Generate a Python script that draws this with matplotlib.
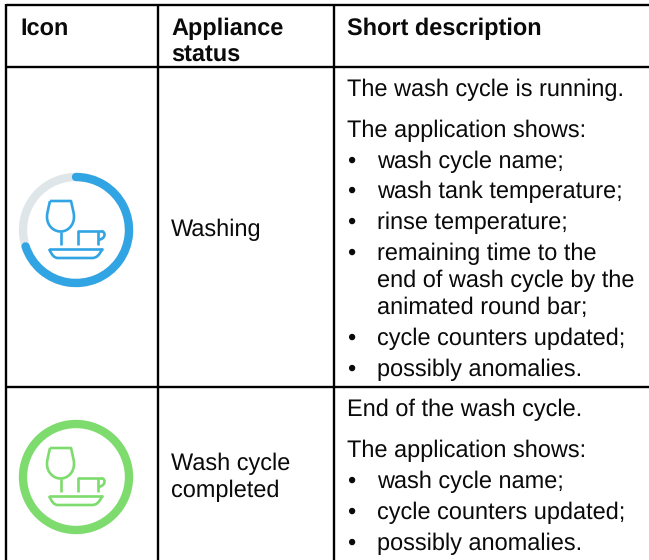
import matplotlib
matplotlib.use('Agg')
import matplotlib.pyplot as plt
from matplotlib.patches import Arc, Circle, PathPatch
from matplotlib.path import Path

# table content
headers = ['Icon', 'Appliance', 'status', 'Short description']
statuses = ['Washing', 'Wash cycle', 'completed']
washing_intro = ['The wash cycle is running.', 'The application shows:']
washing_items = ['wash cycle name;', 'wash tank temperature;', 'rinse temperature;',
                 'remaining time to the']
washing_wrapped = ['end of wash cycle by the', 'animated round bar;']
washing_tail = ['cycle counters updated;', 'possibly anomalies.']
completed_intro = ['End of the wash cycle.', 'The application shows:']
completed_items = ['wash cycle name;', 'cycle counters updated;', 'possibly anomalies.']

# share of the round bar that is done
wash_progress = 0.70

BLUE = '#31A4E3'
GREY = '#DFE6EA'
GREEN = '#7EDB6E'
INK = '#0A0A0A'
SIZE = 16.95

plt.rcParams['font.family'] = ['Liberation Sans', 'DejaVu Sans']
plt.rcParams['text.hinting'] = 'no_hinting'

fig = plt.figure(figsize=(6.49, 5.6), dpi=100)
ax = fig.add_axes([0, 0, 1, 1])
ax.set_xlim(0, 649)
ax.set_ylim(560, 0)
ax.axis('off')


def put(x, y, s, bold=False):
    ax.text(x, y, s, fontsize=SIZE, va='baseline', ha='left', color=INK,
            fontweight='bold' if bold else 'normal')


def put_items(items, ys):
    for s, y in zip(items, ys):
        put(347, y, '•')
        put(377, y, s)


def stroke(cx, cy, pts, codes, color):
    pts = [(cx + p[0], cy + p[1]) for p in pts]
    ax.add_patch(PathPatch(Path(pts, codes), fill=False, edgecolor=color, lw=1.9,
                           joinstyle='round', capstyle='butt'))


def dishes(cx, cy, color):
    M, L, C = Path.MOVETO, Path.LINETO, Path.CURVE4
    # glass
    stroke(cx, cy, [(-26, -29), (-5, -29),
                    (-3, -20), (-2, -17), (-2, -13),
                    (-2, -5), (-8, 1.5), (-15.3, 1.5),
                    (-23, 1.5), (-29, -5), (-29, -13),
                    (-29, -17), (-28, -20), (-26, -29)],
           [M, L, C, C, C, C, C, C, C, C, C, C, C, C], color)
    stroke(cx, cy, [(-15.3, 1.5), (-15.3, 15)], [M, L], color)
    # plate
    stroke(cx, cy, [(-27, 19), (26.5, 19)], [M, L], color)
    stroke(cx, cy, [(-27, 19), (-24, 25), (-22, 28), (-18, 28), (16, 28),
                    (21, 28), (23, 25), (26.5, 19)],
           [M, C, C, C, L, C, C, C], color)
    # cup
    stroke(cx, cy, [(1.5, 15), (1.5, 1), (25.5, 1)], [M, L, L], color)
    stroke(cx, cy, [(22, 1), (22, 15)], [M, L], color)
    stroke(cx, cy, [(25.5, 1), (30, 2), (30, 9), (22, 10)], [M, C, C, C], color)


# grid lines of the table
for x in [6, 158, 334]:
    ax.plot([x, x], [4, 560], color='black', lw=1.7, solid_capstyle='butt')
for y in [5, 67, 387]:
    ax.plot([6, 649], [y, y], color='black', lw=1.7, solid_capstyle='butt')

# header
put(20, 35, headers[0], bold=True)
put(171, 35, headers[1], bold=True)
put(171, 61, headers[2], bold=True)
put(347, 35, headers[3], bold=True)

# washing row
ax.add_patch(Arc((76, 230), 106, 106, theta1=0, theta2=360, color=GREY, lw=6.0))
# y axis is flipped, so the arc runs clockwise from the top
ax.add_patch(Arc((76, 230), 106, 106, theta1=270, theta2=270 + 360 * wash_progress,
                 color=BLUE, lw=6.0, capstyle='round'))
dishes(76, 230, BLUE)
put(171, 236, statuses[0])
put(347, 96, washing_intro[0])
put(347, 137, washing_intro[1])
put_items(washing_items, [168, 198, 229, 260])
put(377, 287, washing_wrapped[0])
put(377, 314, washing_wrapped[1])
put_items(washing_tail, [345, 376])

# completed row
ax.add_patch(Circle((76, 477), 53, fill=False, edgecolor=GREEN, lw=6.0))
dishes(76, 477, GREEN)
put(171, 470, statuses[1])
put(171, 497, statuses[2])
put(347, 416, completed_intro[0])
put(347, 457, completed_intro[1])
put_items(completed_items, [488, 519, 550])

fig.savefig('out.png', dpi=100)
